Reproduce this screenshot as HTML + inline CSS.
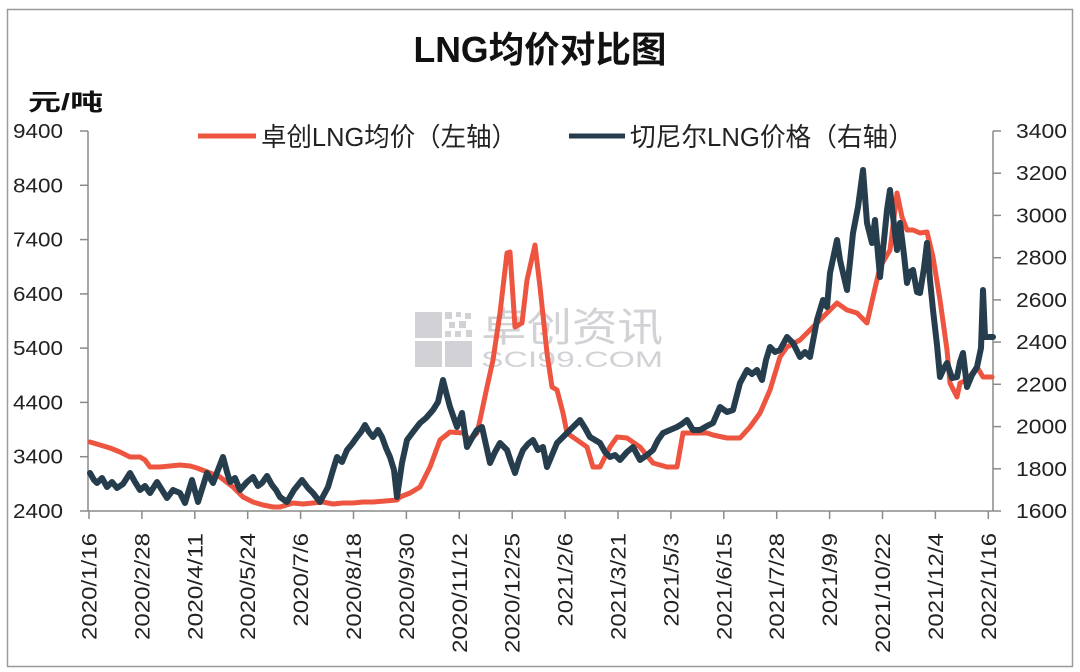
<!DOCTYPE html>
<html><head><meta charset="utf-8"><style>
html,body{margin:0;padding:0;background:#fff;}
svg{display:block;}
text{font-family:"Liberation Sans","Noto Sans CJK SC",sans-serif;}
</style></head><body>
<svg width="1080" height="672" viewBox="0 0 1080 672" xmlns="http://www.w3.org/2000/svg">
<rect x="0" y="0" width="1080" height="672" fill="#fff"/>
<rect x="7.5" y="9.5" width="1065" height="657" fill="none" stroke="#9a9a9a" stroke-width="1.5"/>

<!-- title -->
<text x="540" y="62" text-anchor="middle" font-size="36" font-weight="bold" fill="#111" textLength="253" lengthAdjust="spacingAndGlyphs">LNG均价对比图</text>
<text x="28" y="110" font-size="23" font-weight="bold" fill="#111" textLength="75" lengthAdjust="spacingAndGlyphs">元/吨</text>

<!-- legend -->
<line x1="198" y1="136" x2="256" y2="136" stroke="#EE5540" stroke-width="5"/>
<text x="261" y="146" font-size="26" fill="#222" textLength="256" lengthAdjust="spacingAndGlyphs">卓创LNG均价（左轴）</text>
<line x1="569" y1="136" x2="625" y2="136" stroke="#253D4C" stroke-width="5"/>
<text x="630" y="146" font-size="26" fill="#222" textLength="284" lengthAdjust="spacingAndGlyphs">切尼尔LNG价格（右轴）</text>

<!-- watermark -->
<g fill="#d2d2d6">
<rect x="415" y="312" width="27" height="26"/>
<rect x="415" y="341" width="27" height="26"/>
<rect x="445" y="341" width="27" height="26"/>
<rect x="445" y="312" width="7" height="7"/><rect x="456" y="312" width="5" height="5"/><rect x="465" y="313" width="6" height="6"/>
<rect x="449" y="322" width="6" height="6"/><rect x="459" y="321" width="7" height="7"/>
<rect x="445" y="331" width="6" height="6"/><rect x="455" y="331" width="6" height="6"/><rect x="466" y="330" width="6" height="7"/>
</g>
<text x="481" y="341" font-size="40" fill="#d2d2d6" textLength="182" lengthAdjust="spacingAndGlyphs">卓创资讯</text>
<text x="481" y="367" font-size="22" fill="#d2d2d6" font-family="Liberation Serif,serif" textLength="182" lengthAdjust="spacingAndGlyphs">SCI99.COM</text>

<!-- axes -->
<g stroke="#8a8a8a" stroke-width="1.5" fill="none">
<line x1="88" y1="131" x2="88" y2="511"/>
<line x1="993" y1="131" x2="993" y2="511"/>
<line x1="88" y1="511" x2="993" y2="511"/>
<line x1="80" y1="131" x2="88" y2="131"/>
<line x1="80" y1="185.3" x2="88" y2="185.3"/>
<line x1="80" y1="239.6" x2="88" y2="239.6"/>
<line x1="80" y1="293.9" x2="88" y2="293.9"/>
<line x1="80" y1="348.1" x2="88" y2="348.1"/>
<line x1="80" y1="402.4" x2="88" y2="402.4"/>
<line x1="80" y1="456.7" x2="88" y2="456.7"/>
<line x1="80" y1="511" x2="88" y2="511"/>
<line x1="993" y1="131" x2="1001" y2="131"/>
<line x1="993" y1="173.2" x2="1001" y2="173.2"/>
<line x1="993" y1="215.4" x2="1001" y2="215.4"/>
<line x1="993" y1="257.7" x2="1001" y2="257.7"/>
<line x1="993" y1="299.9" x2="1001" y2="299.9"/>
<line x1="993" y1="342.1" x2="1001" y2="342.1"/>
<line x1="993" y1="384.3" x2="1001" y2="384.3"/>
<line x1="993" y1="426.6" x2="1001" y2="426.6"/>
<line x1="993" y1="468.8" x2="1001" y2="468.8"/>
<line x1="993" y1="511" x2="1001" y2="511"/>
<line x1="89" y1="511" x2="89" y2="519"/>
<line x1="141.9" y1="511" x2="141.9" y2="519"/>
<line x1="194.8" y1="511" x2="194.8" y2="519"/>
<line x1="247.7" y1="511" x2="247.7" y2="519"/>
<line x1="300.6" y1="511" x2="300.6" y2="519"/>
<line x1="353.5" y1="511" x2="353.5" y2="519"/>
<line x1="406.4" y1="511" x2="406.4" y2="519"/>
<line x1="459.3" y1="511" x2="459.3" y2="519"/>
<line x1="512.2" y1="511" x2="512.2" y2="519"/>
<line x1="565.1" y1="511" x2="565.1" y2="519"/>
<line x1="618" y1="511" x2="618" y2="519"/>
<line x1="670.9" y1="511" x2="670.9" y2="519"/>
<line x1="723.8" y1="511" x2="723.8" y2="519"/>
<line x1="776.7" y1="511" x2="776.7" y2="519"/>
<line x1="829.6" y1="511" x2="829.6" y2="519"/>
<line x1="882.5" y1="511" x2="882.5" y2="519"/>
<line x1="935.4" y1="511" x2="935.4" y2="519"/>
<line x1="988.3" y1="511" x2="988.3" y2="519"/>
</g>

<!-- left labels -->
<g font-size="20" fill="#222" text-anchor="end">
<text x="63" y="138" textLength="50" lengthAdjust="spacingAndGlyphs">9400</text>
<text x="63" y="192.3" textLength="50" lengthAdjust="spacingAndGlyphs">8400</text>
<text x="63" y="246.6" textLength="50" lengthAdjust="spacingAndGlyphs">7400</text>
<text x="63" y="300.9" textLength="50" lengthAdjust="spacingAndGlyphs">6400</text>
<text x="63" y="355.1" textLength="50" lengthAdjust="spacingAndGlyphs">5400</text>
<text x="63" y="409.4" textLength="50" lengthAdjust="spacingAndGlyphs">4400</text>
<text x="63" y="463.7" textLength="50" lengthAdjust="spacingAndGlyphs">3400</text>
<text x="63" y="518" textLength="50" lengthAdjust="spacingAndGlyphs">2400</text>
</g>
<!-- right labels -->
<g font-size="20" fill="#222">
<text x="1016" y="138" textLength="51" lengthAdjust="spacingAndGlyphs">3400</text>
<text x="1016" y="180.2" textLength="51" lengthAdjust="spacingAndGlyphs">3200</text>
<text x="1016" y="222.4" textLength="51" lengthAdjust="spacingAndGlyphs">3000</text>
<text x="1016" y="264.7" textLength="51" lengthAdjust="spacingAndGlyphs">2800</text>
<text x="1016" y="306.9" textLength="51" lengthAdjust="spacingAndGlyphs">2600</text>
<text x="1016" y="349.1" textLength="51" lengthAdjust="spacingAndGlyphs">2400</text>
<text x="1016" y="391.3" textLength="51" lengthAdjust="spacingAndGlyphs">2200</text>
<text x="1016" y="433.6" textLength="51" lengthAdjust="spacingAndGlyphs">2000</text>
<text x="1016" y="475.8" textLength="51" lengthAdjust="spacingAndGlyphs">1800</text>
<text x="1016" y="518" textLength="51" lengthAdjust="spacingAndGlyphs">1600</text>
</g>

<!-- x labels -->
<g font-size="21" fill="#222" text-anchor="end">
<text transform="translate(96.5,533) rotate(-90)" textLength="107" lengthAdjust="spacingAndGlyphs">2020/1/16</text>
<text transform="translate(149.4,533) rotate(-90)" textLength="107" lengthAdjust="spacingAndGlyphs">2020/2/28</text>
<text transform="translate(202.3,533) rotate(-90)" textLength="107" lengthAdjust="spacingAndGlyphs">2020/4/11</text>
<text transform="translate(255.2,533) rotate(-90)" textLength="107" lengthAdjust="spacingAndGlyphs">2020/5/24</text>
<text transform="translate(308.1,533) rotate(-90)" textLength="93.6" lengthAdjust="spacingAndGlyphs">2020/7/6</text>
<text transform="translate(361,533) rotate(-90)" textLength="107" lengthAdjust="spacingAndGlyphs">2020/8/18</text>
<text transform="translate(413.9,533) rotate(-90)" textLength="107" lengthAdjust="spacingAndGlyphs">2020/9/30</text>
<text transform="translate(466.8,533) rotate(-90)" textLength="120" lengthAdjust="spacingAndGlyphs">2020/11/12</text>
<text transform="translate(519.7,533) rotate(-90)" textLength="120" lengthAdjust="spacingAndGlyphs">2020/12/25</text>
<text transform="translate(572.6,533) rotate(-90)" textLength="93.6" lengthAdjust="spacingAndGlyphs">2021/2/6</text>
<text transform="translate(625.5,533) rotate(-90)" textLength="107" lengthAdjust="spacingAndGlyphs">2021/3/21</text>
<text transform="translate(678.4,533) rotate(-90)" textLength="93.6" lengthAdjust="spacingAndGlyphs">2021/5/3</text>
<text transform="translate(731.3,533) rotate(-90)" textLength="107" lengthAdjust="spacingAndGlyphs">2021/6/15</text>
<text transform="translate(784.2,533) rotate(-90)" textLength="107" lengthAdjust="spacingAndGlyphs">2021/7/28</text>
<text transform="translate(837.1,533) rotate(-90)" textLength="93.6" lengthAdjust="spacingAndGlyphs">2021/9/9</text>
<text transform="translate(890,533) rotate(-90)" textLength="120" lengthAdjust="spacingAndGlyphs">2021/10/22</text>
<text transform="translate(942.9,533) rotate(-90)" textLength="107" lengthAdjust="spacingAndGlyphs">2021/12/4</text>
<text transform="translate(995.8,533) rotate(-90)" textLength="107" lengthAdjust="spacingAndGlyphs">2022/1/16</text>
</g>

<!-- red series (left axis) -->
<polyline fill="none" stroke="#EE5540" stroke-width="5" stroke-linejoin="round" stroke-linecap="round" points="90,442 100,445 110,448 120,452 130,457 140,457 145,460 150,467 160,467 170,466 180,465 190,466 197,468 210,473 220,477 233,487 243,497 253,502 263,505 273,507 280,507 293,503 303,504 313,503 323,502 333,504 343,503 353,503 363,502 373,502 385,501 397,500 400,497 410,493 420,487 430,467 440,440 450,432 463,433 470,440 477,433 480,420 487,387 493,360 500,313 507,253 510,252 515,327 522,323 527,280 535,245 540,287 547,353 552,387 557,390 563,413 567,433 577,440 587,447 593,467 600,467 610,447 617,437 627,438 640,447 653,463 667,467 677,467 683,433 693,433 707,433 713,435 727,438 740,438 750,427 760,413 770,390 780,357 787,347 800,340 810,330 823,317 837,303 847,310 857,313 867,323 873,297 880,267 890,250 897,193 902,217 907,230 913,230 920,233 927,232 933,257 940,300 947,350 950,383 957,397 960,383 967,380 977,367 983,377 992,377"/>

<!-- dark series (right axis) -->
<polyline fill="none" stroke="#253D4C" stroke-width="6" stroke-linejoin="round" stroke-linecap="round" points="90,473 94,480 97,483 102,478 107,487 112,482 117,488 123,484 130,473 135,482 140,490 145,486 150,493 157,482 162,490 167,498 173,490 180,493 185,503 192,480 198,502 203,486 207,473 213,483 218,470 223,457 227,472 230,482 235,478 240,490 247,482 253,477 258,486 262,483 267,476 272,485 276,490 280,497 287,502 294,490 302,480 308,488 313,493 320,502 328,487 333,470 337,457 342,462 347,450 352,444 357,437 361,432 365,425 369,432 373,437 378,430 382,437 386,448 390,457 394,470 397,497 402,463 407,440 413,432 420,423 426,418 433,410 438,402 443,380 446,392 450,407 457,427 462,413 467,447 472,438 477,430 482,427 486,445 490,463 495,452 500,443 507,450 511,462 515,473 519,460 523,450 528,444 533,440 538,450 543,447 547,467 552,455 557,443 563,437 570,430 575,425 580,420 585,428 590,437 595,440 600,443 605,452 610,457 615,455 620,460 627,452 633,447 640,460 647,455 653,450 658,440 663,433 670,430 677,427 682,424 687,420 693,430 700,430 707,426 713,423 720,407 727,412 733,410 740,383 747,370 752,374 757,370 762,380 766,360 770,347 775,352 780,350 787,337 793,343 800,357 805,352 810,357 817,320 823,300 827,307 830,273 837,240 840,260 847,290 850,262 853,233 858,207 863,170 867,223 872,243 875,220 880,277 884,240 887,210 890,190 894,225 897,250 900,223 904,255 907,283 910,272 913,270 917,292 920,293 924,268 927,243 930,280 933,310 937,345 940,377 944,368 947,363 952,378 957,377 960,362 963,353 967,387 972,375 977,367 981,348 983,290 985,337 993,337"/>
</svg>
</body></html>
